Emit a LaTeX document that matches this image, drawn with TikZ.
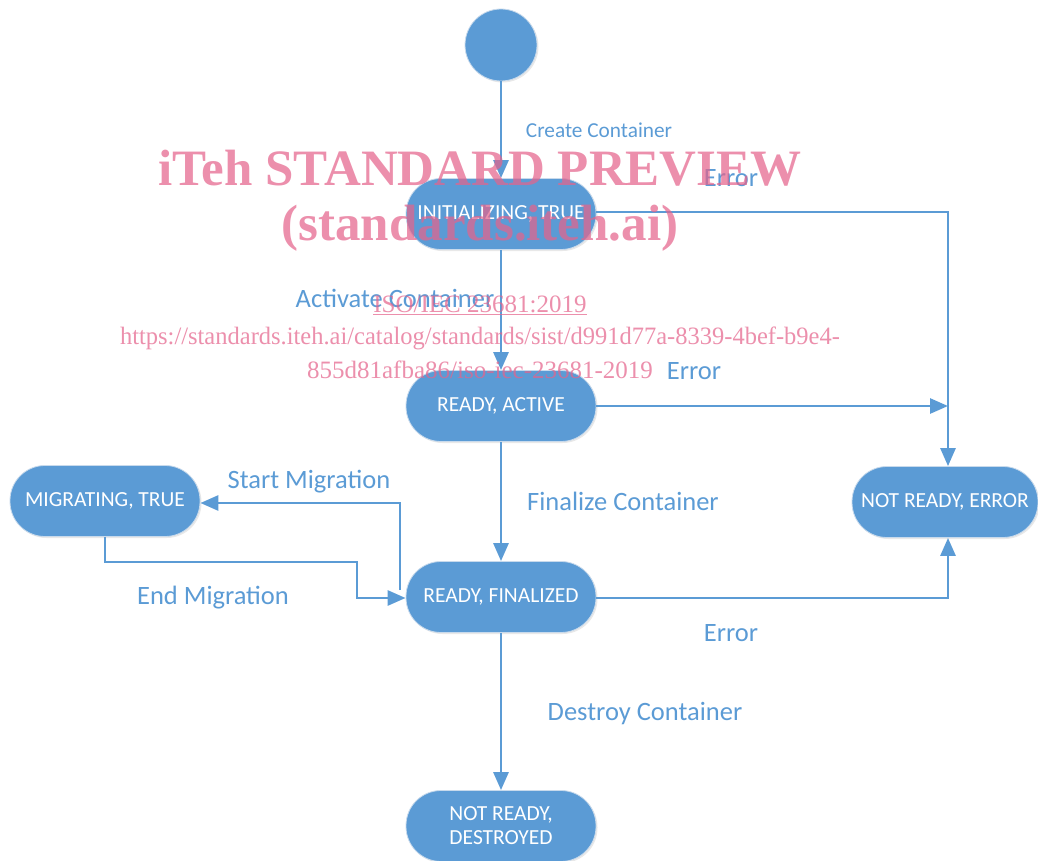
\documentclass[tikz,border=0pt]{standalone}
\usepackage{fontspec}
\setmainfont{Carlito}
\newfontfamily\wmfont{Liberation Serif}
\usetikzlibrary{arrows.meta,shadows}
\definecolor{nodeblue}{RGB}{91,155,213}
\definecolor{edgeblue}{RGB}{200,218,236}
\definecolor{wmpink}{RGB}{228,100,140}
\tikzset{
  state/.style={rectangle, rounded corners=35pt, fill=nodeblue, draw=edgeblue, line width=0.8pt,
    minimum width=190pt, minimum height=71pt, text=white, align=center,
    font=\fontsize{21.5}{24}\selectfont, inner sep=2pt,
    drop shadow={shadow xshift=1.5pt, shadow yshift=-1.5pt, opacity=0.18, fill=gray}},
  startstate/.style={circle, fill=nodeblue, draw=edgeblue, line width=0.8pt, minimum size=72pt, inner sep=0pt,
    drop shadow={shadow xshift=1.5pt, shadow yshift=-1.5pt, opacity=0.18, fill=gray}},
  conn/.style={draw=nodeblue, line width=2.8pt, -{Triangle[length=18pt,width=15pt]}},
  lbl/.style={text=nodeblue, font=\fontsize{26.5}{30}\selectfont, inner sep=0pt},
  lblsmall/.style={text=nodeblue, font=\fontsize{21.3}{25}\selectfont, inner sep=0pt},
  wmbig/.style={text=wmpink, text opacity=0.72, font=\wmfont\bfseries\fontsize{51}{56}\selectfont, inner sep=0pt},
  wmsmall/.style={text=wmpink, text opacity=0.72, font=\wmfont\fontsize{25}{28}\selectfont, inner sep=0pt},
}
\begin{document}
\begin{tikzpicture}[x=1pt,y=-1pt]
\useasboundingbox (0,0) rectangle (1038,861);
% nodes
\node[startstate] (start) at (501,45) {};
\node[state] (init) at (501,214) {INITIALIZING, TRUE};
\node[state] (active) at (501,406) {READY, ACTIVE};
\node[state] (final) at (501,597) {READY, FINALIZED};
\node[state] (migr) at (105,501) {MIGRATING, TRUE};
\node[state, minimum width=186pt] (err) at (945,502) {NOT READY, ERROR};
\node[state] (destr) at (501,826) {NOT READY,\\DESTROYED};
% junction coordinates
\coordinate (errtopjoin) at (948,212);
\coordinate (erractjoin) at (948,406);
\coordinate (errbotjoin) at (948,598);
\coordinate (smA) at (400,590);
\coordinate (smB) at (400,503);
\coordinate (emA) at (105,562);
\coordinate (emB) at (357,562);
\coordinate (emC) at (357,598);
% connectors
\draw[conn] (start.south) -- (init.north);
\draw[conn] (init.south) -- (active.north);
\draw[conn] (active.south) -- (final.north);
\draw[conn] (final.south) -- (destr.north);
\draw[conn] (init.east |- errtopjoin) -- (errtopjoin) -- (err.north -| errtopjoin);
\draw[conn] (active.east) -- (erractjoin);
\draw[conn] (final.east |- errbotjoin) -- (errbotjoin) -- (err.south -| errbotjoin);
\draw[conn] (smA) -- (smB) -- (migr.east |- smB);
\draw[conn] (migr.south -| emA) -- (emA) -- (emB) -- (emC) -- (final.west |- emC);
% labels
\node[lblsmall] (lcreate) at (599,130) {Create Container};
\node[lbl] (lerr1) at (731,178) {Error};
\node[lbl] (lact) at (395,298) {Activate Container};
\node[lbl] (lerr2) at (694,371) {Error};
\node[lbl] (lstart) at (309,482) {Start Migration};
\node[lbl] (lfin) at (623,501) {Finalize Container};
\node[lbl] (lend) at (213,598) {End Migration};
\node[lbl] (lerr3) at (731,633) {Error};
\node[lbl] (ldest) at (645,714) {Destroy Container};
% watermark
\node[wmbig] (wm1) at (480,168) {iTeh STANDARD PREVIEW};
\node[wmbig] (wm2) at (480,228) {(standards.iteh.ai)};
\node[wmsmall] (wm3) at (480,305) {\underline{ISO/IEC 23681:2019}};
\node[wmsmall, xscale=0.98] (wm4) at (480,338) {https://standards.iteh.ai/catalog/standards/sist/d991d77a-8339-4bef-b9e4-};
\node[wmsmall] (wm5) at (480,370) {855d81afba86/iso-iec-23681-2019};
\end{tikzpicture}
\end{document}
